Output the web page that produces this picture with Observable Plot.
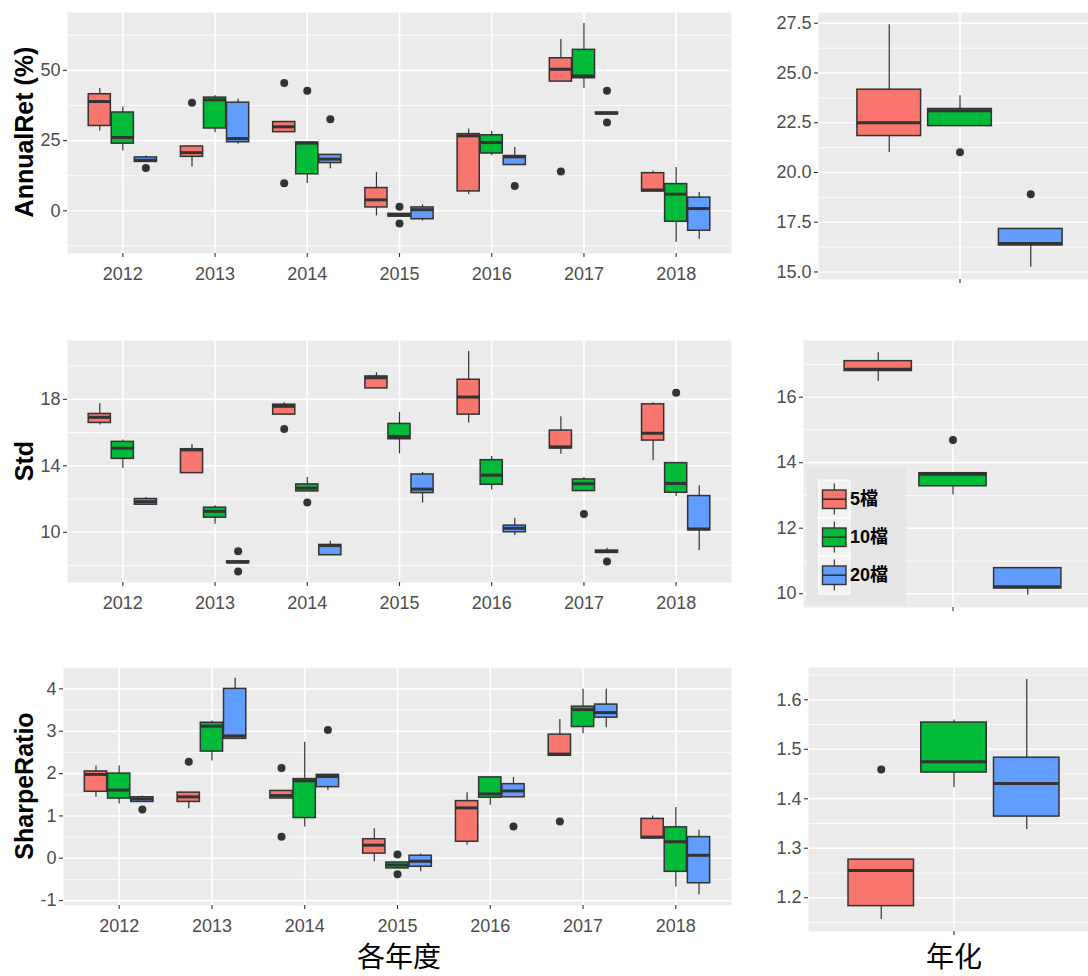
<!DOCTYPE html>
<html>
<head>
<meta charset="utf-8">
<script src="https://cdn.jsdelivr.net/npm/d3@7"></script>
<script src="https://cdn.jsdelivr.net/npm/@observablehq/plot@0.6"></script>
<style>
  html, body { margin: 0; padding: 0; background: #fff; overflow: hidden; }
  #chart { position: relative; width: 1088px; height: 976px; overflow: hidden; font-family: "Liberation Sans", Arial, sans-serif; }
  #chart svg { position: absolute; }
  [aria-label="y-axis tick"], [aria-label="x-axis tick"] { stroke: #333; stroke-width: 1.1px; }
  .ytitle { position: absolute; left: 24px; font-weight: bold; font-size: 25px; color: #000; white-space: nowrap;
            transform: translate(-50%, -50%) rotate(-90deg); }
  .xtitle { position: absolute; top: 941px; font-family: "Noto Sans CJK SC", sans-serif; font-size: 28px; line-height: 1;
            color: #000; transform: translateX(-50%); white-space: nowrap; }
</style>
</head>
<body>
<div id="chart"></div>
<script>
// Portfolio groups and years
const years = [2012, 2013, 2014, 2015, 2016, 2017, 2018];
const groups = ["5檔", "10檔", "20檔"];
const groupColors = ["#F8766D", "#00BA38", "#619CFF"];

// Yearly box statistics: [year, group, lower whisker, Q1, median, Q3, upper whisker]
const annualRetStats = [
  [2012, "5檔", 28.4, 30.2, 38.9, 41.5, 43.5],
  [2012, "10檔", 21.3, 23.9, 26.1, 35.0, 37.0],
  [2012, "20檔", 17.4, 17.4, 18.0, 19.0, 19.5],
  [2013, "5檔", 15.6, 19.2, 20.7, 22.9, 22.9],
  [2013, "10檔", 27.8, 29.3, 39.5, 40.3, 41.0],
  [2013, "20檔", 23.7, 24.4, 25.7, 38.5, 39.7],
  [2014, "5檔", 28.0, 28.0, 29.9, 31.6, 31.6],
  [2014, "10檔", 9.7, 13.0, 24.1, 24.3, 24.3],
  [2014, "20檔", 15.0, 17.0, 18.4, 19.9, 19.9],
  [2015, "5檔", -1.8, 1.2, 3.9, 8.1, 13.6],
  [2015, "10檔", -2.0, -2.0, -1.6, -1.1, -1.1],
  [2015, "20檔", -3.6, -3.0, 0.4, 1.2, 2.1],
  [2016, "5檔", 5.7, 6.9, 26.7, 27.3, 29.1],
  [2016, "10檔", 19.6, 20.4, 24.3, 26.9, 28.2],
  [2016, "20檔", 16.3, 16.3, 19.2, 19.5, 22.5],
  [2017, "5檔", 46.0, 46.0, 50.4, 54.3, 61.0],
  [2017, "10檔", 43.6, 47.2, 48.0, 57.3, 66.7],
  [2017, "20檔", 34.4, 34.4, 34.7, 35.0, 35.0],
  [2018, "5檔", 6.9, 6.9, 7.4, 13.4, 14.2],
  [2018, "10檔", -11.3, -3.9, 5.9, 9.5, 15.4],
  [2018, "20檔", -10.1, -7.1, 0.8, 4.7, 6.5]
];
const annualRetOutliers = [
  [2012, "20檔", 15.2], [2013, "5檔", 38.5], [2014, "5檔", 45.5], [2014, "5檔", 9.8],
  [2014, "10檔", 42.7], [2014, "20檔", 32.6], [2015, "10檔", 1.4], [2015, "10檔", -4.5],
  [2016, "20檔", 8.8], [2017, "5檔", 14.0], [2017, "20檔", 42.7], [2017, "20檔", 31.4]
];

const stdStats = [
  [2012, "5檔", 16.46, 16.58, 16.92, 17.12, 17.74],
  [2012, "10檔", 13.84, 14.42, 15.06, 15.44, 15.56],
  [2012, "20檔", 11.66, 11.66, 11.84, 12.0, 12.1],
  [2013, "5檔", 13.56, 13.56, 14.96, 15.0, 15.28],
  [2013, "10檔", 10.48, 10.88, 11.26, 11.48, 11.6],
  [2013, "20檔", 8.15, 8.15, 8.2, 8.25, 8.25],
  [2014, "5檔", 17.08, 17.08, 17.58, 17.68, 17.8],
  [2014, "10檔", 12.46, 12.46, 12.66, 12.88, 13.3],
  [2014, "20檔", 8.62, 8.62, 9.2, 9.24, 9.46],
  [2015, "5檔", 18.66, 18.66, 19.3, 19.38, 19.6],
  [2015, "10檔", 14.72, 15.6, 15.76, 16.52, 17.22],
  [2015, "20檔", 11.76, 12.36, 12.6, 13.48, 13.6],
  [2016, "5檔", 16.58, 17.08, 18.14, 19.18, 20.88],
  [2016, "10檔", 12.54, 12.86, 13.44, 14.34, 14.56],
  [2016, "20檔", 9.8, 10.0, 10.24, 10.4, 10.84],
  [2017, "5檔", 14.7, 15.04, 15.14, 16.12, 16.96],
  [2017, "10檔", 12.48, 12.48, 12.92, 13.18, 13.3],
  [2017, "20檔", 8.76, 8.76, 8.84, 8.9, 9.04],
  [2018, "5檔", 14.3, 15.52, 15.96, 17.7, 17.8],
  [2018, "10檔", 12.16, 12.38, 12.94, 14.16, 14.16],
  [2018, "20檔", 8.9, 10.12, 10.2, 12.18, 12.8]
];
const stdOutliers = [
  [2013, "20檔", 8.86], [2013, "20檔", 7.64], [2014, "5檔", 16.22], [2014, "10檔", 11.8],
  [2017, "10檔", 11.1], [2017, "20檔", 8.24], [2018, "10檔", 18.4]
];

const sharpeStats = [
  [2012, "5檔", 1.44, 1.57, 1.98, 2.05, 2.18],
  [2012, "10檔", 1.28, 1.41, 1.61, 2.0, 2.18],
  [2012, "20檔", 1.33, 1.33, 1.4, 1.44, 1.47],
  [2013, "5檔", 1.17, 1.33, 1.45, 1.55, 1.55],
  [2013, "10檔", 2.3, 2.52, 3.12, 3.2, 3.24],
  [2013, "20檔", 2.82, 2.82, 2.89, 4.0, 4.25],
  [2014, "5檔", 1.41, 1.41, 1.48, 1.59, 1.59],
  [2014, "10檔", 0.74, 0.95, 1.83, 1.87, 2.74],
  [2014, "20檔", 1.6, 1.68, 1.93, 1.97, 1.97],
  [2015, "5檔", -0.08, 0.11, 0.31, 0.45, 0.7],
  [2015, "10檔", -0.24, -0.24, -0.16, -0.1, -0.1],
  [2015, "20檔", -0.32, -0.2, -0.07, 0.06, 0.1],
  [2016, "5檔", 0.31, 0.39, 1.19, 1.35, 1.55],
  [2016, "10檔", 1.25, 1.43, 1.52, 1.91, 1.91],
  [2016, "20檔", 1.44, 1.44, 1.59, 1.75, 1.91],
  [2017, "5檔", 2.42, 2.42, 2.46, 2.92, 3.28],
  [2017, "10檔", 2.94, 3.1, 3.51, 3.58, 3.99],
  [2017, "20檔", 3.08, 3.32, 3.44, 3.63, 3.99],
  [2018, "5檔", 0.47, 0.47, 0.5, 0.93, 1.0],
  [2018, "10檔", -0.68, -0.32, 0.39, 0.73, 1.2],
  [2018, "20檔", -0.86, -0.59, 0.07, 0.5, 0.66]
];
const sharpeOutliers = [
  [2012, "20檔", 1.15], [2013, "5檔", 2.28], [2014, "5檔", 2.13], [2014, "5檔", 0.51],
  [2014, "20檔", 3.03], [2015, "10檔", 0.09], [2015, "10檔", -0.38], [2016, "20檔", 0.75],
  [2017, "5檔", 0.87]
];

// Annualised box statistics: [group, lower whisker, Q1, median, Q3, upper whisker]
const annualRetAnnualized = [
  ["5檔", 21.0, 21.83, 22.5, 24.16, 27.43],
  ["10檔", 22.33, 22.33, 23.1, 23.19, 23.86],
  ["20檔", 15.23, 16.33, 16.43, 17.16, 17.16]
];
const annualRetAnnualizedOutliers = [["10檔", 21.02], ["20檔", 18.9]];

const stdAnnualized = [
  ["5檔", 16.48, 16.8, 16.85, 17.1, 17.36],
  ["10檔", 13.02, 13.28, 13.65, 13.68, 13.68],
  ["20檔", 9.95, 10.16, 10.21, 10.78, 10.78]
];
const stdAnnualizedOutliers = [["10檔", 14.69]];

const sharpeAnnualized = [
  ["5檔", 1.156, 1.183, 1.255, 1.277, 1.277],
  ["10檔", 1.422, 1.453, 1.475, 1.554, 1.559],
  ["20檔", 1.338, 1.364, 1.431, 1.483, 1.641]
];
const sharpeAnnualizedOutliers = [["5檔", 1.459]];

// Axis breaks
const retTicks = [0, 25, 50];
const stdTicks = [10, 14, 18];
const sharpeTicks = [-1, 0, 1, 2, 3, 4];
const retAnnTicks = [15, 17.5, 20, 22.5, 25, 27.5];
const stdAnnTicks = [10, 12, 14, 16];
const sharpeAnnTicks = [1.2, 1.3, 1.4, 1.5, 1.6];

const chart = document.getElementById("chart");

// dodge offsets of the three groups within a category
const yearOffsets = [-0.25, 0, 0.25];
const annOffsets = [-0.3, 0, 0.3];

function yearRows(stats) {
  return stats.map(([year, group, lo, q1, med, q3, hi]) =>
    ({x: year + yearOffsets[groups.indexOf(group)], group, lo, q1, med, q3, hi}));
}
function yearOuts(outs) {
  return outs.map(([year, group, v]) => ({x: year + yearOffsets[groups.indexOf(group)], group, v}));
}
function annRows(stats) {
  return stats.map(([group, lo, q1, med, q3, hi]) =>
    ({x: annOffsets[groups.indexOf(group)], group, lo, q1, med, q3, hi}));
}
function annOuts(outs) {
  return outs.map(([group, v]) => ({x: annOffsets[groups.indexOf(group)], group, v}));
}

// One ggplot-style boxplot panel; frame = [left, top, right, bottom] in page pixels
function boxPanel({rows, outs, ticks, fmt, xDomain, xTicks, xFmt, vgrid, half, frame, svgLeft}) {
  const [L, T, R, B] = frame;
  const mt = 8, mb = 34, mr = 4;
  const width = Math.round(R - svgLeft + mr);
  const values = rows.flatMap(r => [r.lo, r.hi]).concat(outs.map(o => o.v));
  const [vmin, vmax] = d3.extent(values);
  const pad = (vmax - vmin) * 0.05;
  const domain = [vmin - pad, vmax + pad];
  const step = ticks[1] - ticks[0];
  const minor = d3.range(-40, 40).map(k => ticks[0] + (k + 0.5) * step)
    .filter(v => v > domain[0] && v < domain[1]);

  const svg = Plot.plot({
    width,
    height: B - T + mt + mb,
    marginLeft: L - svgLeft,
    marginRight: width - (R - svgLeft),
    marginTop: mt,
    marginBottom: mb,
    x: {type: "linear", domain: xDomain},
    y: {domain},
    color: {domain: groups, range: groupColors},
    style: {
      position: "absolute", left: svgLeft + "px", top: (T - mt) + "px",
      background: "transparent", color: "#4D4D4D", overflow: "visible",
      fontFamily: "'Liberation Sans', Arial, sans-serif", fontSize: "18px"
    },
    marks: [
      Plot.frame({fill: "#EBEBEB", stroke: "none"}),
      Plot.ruleY(minor, {stroke: "#fff", strokeWidth: 0.8}),
      Plot.ruleY(ticks, {stroke: "#fff", strokeWidth: 1.6}),
      Plot.ruleX(vgrid, {stroke: "#fff", strokeWidth: 1.6}),
      Plot.ruleX(rows, {x: "x", y1: "lo", y2: "hi", stroke: "#333", strokeWidth: 1.2}),
      Plot.rect(rows, {x1: r => r.x - half, x2: r => r.x + half, y1: "q1", y2: "q3",
        fill: "group", stroke: "#333", strokeWidth: 1.5}),
      Plot.ruleY(rows, {y: "med", x1: r => r.x - half, x2: r => r.x + half, stroke: "#333", strokeWidth: 3}),
      Plot.dot(outs, {x: "x", y: "v", r: 4, fill: "#333", stroke: "none"}),
      Plot.axisY({ticks, tickFormat: fmt, tickSize: 4, tickPadding: 3, label: null}),
      Plot.axisX({ticks: xTicks, tickFormat: xFmt, tickSize: 4, tickPadding: 10, label: null})
    ]
  });
  chart.appendChild(svg);
}

const yearX = {xDomain: [2011.4, 2018.6], xTicks: years, xFmt: d => String(d), vgrid: years, half: 0.12, svgLeft: 0};
const annX = {xDomain: [-0.6, 0.6], xTicks: [0], xFmt: () => "", vgrid: [0], half: 0.135, svgLeft: 745};
const plain = d => String(d);
const oneDecimal = d3.format(".1f");

boxPanel({...yearX, rows: yearRows(annualRetStats), outs: yearOuts(annualRetOutliers),
  ticks: retTicks, fmt: plain, frame: [67, 12, 731, 253]});
boxPanel({...annX, rows: annRows(annualRetAnnualized), outs: annOuts(annualRetAnnualizedOutliers),
  ticks: retAnnTicks, fmt: oneDecimal, frame: [818, 12, 1101, 279]});

boxPanel({...yearX, rows: yearRows(stdStats), outs: yearOuts(stdOutliers),
  ticks: stdTicks, fmt: plain, frame: [67, 340, 731, 582]});
boxPanel({...annX, rows: annRows(stdAnnualized), outs: annOuts(stdAnnualizedOutliers),
  ticks: stdAnnTicks, fmt: plain, frame: [803, 340, 1102, 607]});

boxPanel({...yearX, rows: yearRows(sharpeStats), outs: yearOuts(sharpeOutliers),
  ticks: sharpeTicks, fmt: plain, frame: [63, 667, 731, 905]});
boxPanel({...annX, rows: annRows(sharpeAnnualized), outs: annOuts(sharpeAnnualizedOutliers),
  ticks: sharpeAnnTicks, fmt: oneDecimal, frame: [808, 667, 1099, 931]});

// Axis titles
function addText(cls, text, left, top) {
  const el = document.createElement("div");
  el.className = cls;
  el.textContent = text;
  el.style.left = left + "px";
  if (top != null) el.style.top = top + "px";
  chart.appendChild(el);
}
addText("ytitle", "AnnualRet (%)", 24, 132);
addText("ytitle", "Std", 24, 461);
addText("ytitle", "SharpeRatio", 24, 786);
addText("xtitle", "各年度", 399, null);
addText("xtitle", "年化", 954, null);

// Legend drawn inside the annualised Std panel
const legend = d3.create("svg")
  .attr("width", 100).attr("height", 138)
  .style("left", "807px").style("top", "468px");
legend.append("rect").attr("width", 99).attr("height", 137).attr("fill", "#E5E5E5");
groups.forEach((g, i) => {
  const ky = 12 + i * 38;
  const k = legend.append("g").attr("transform", `translate(11.5,${ky})`);
  k.append("rect").attr("width", 31.5).attr("height", 38).attr("fill", "#F2F2F2").attr("stroke", "#fff").attr("stroke-width", 1);
  k.append("line").attr("x1", 15.8).attr("x2", 15.8).attr("y1", 3.5).attr("y2", 34.5)
    .attr("stroke", "#333").attr("stroke-width", 1.2);
  k.append("rect").attr("x", 4).attr("y", 10).attr("width", 23.5).attr("height", 18.5)
    .attr("fill", groupColors[i]).attr("stroke", "#333").attr("stroke-width", 1.4);
  k.append("line").attr("x1", 4).attr("x2", 27.5).attr("y1", 19.2).attr("y2", 19.2)
    .attr("stroke", "#333").attr("stroke-width", 1.6);
  legend.append("text").attr("x", 43).attr("y", ky + 19).attr("dy", "0.35em")
    .attr("font-family", "'Liberation Sans', 'Noto Sans CJK TC', sans-serif")
    .attr("font-weight", "bold").attr("font-size", 18).attr("fill", "#000").text(g);
});
chart.appendChild(legend.node());
</script>
</body>
</html>
